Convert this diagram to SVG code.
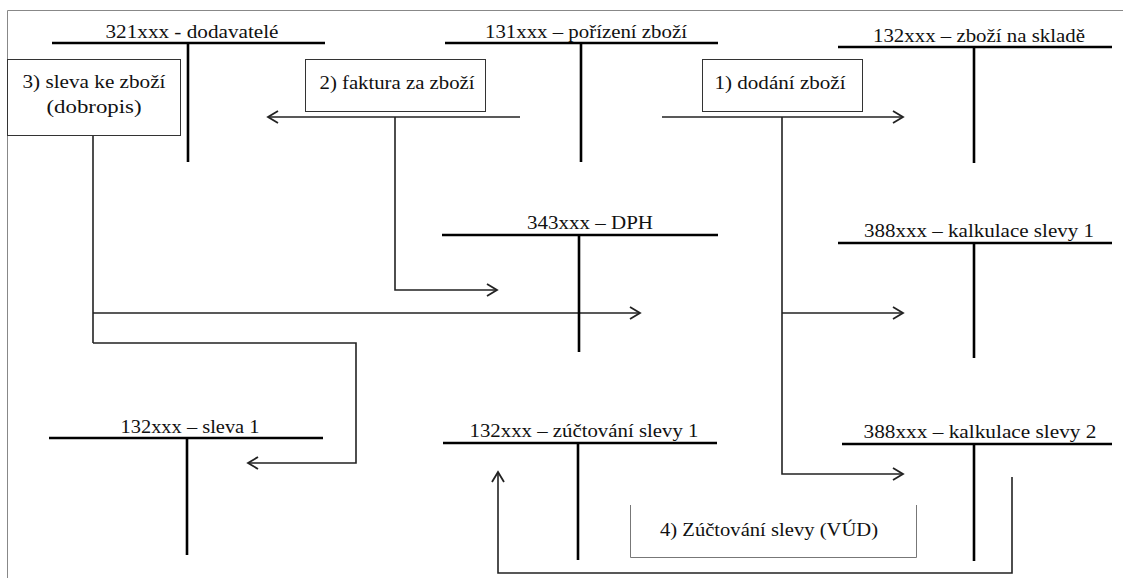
<svg xmlns="http://www.w3.org/2000/svg" width="1123" height="578" viewBox="0 0 1123 578">
<style>
text{font-family:"Liberation Serif","DejaVu Serif","Times New Roman",serif;font-size:19px;fill:#111;text-anchor:middle}
.t{stroke:#000;stroke-width:2.6;fill:none}
.c{stroke:#222;stroke-width:1.6;fill:none}
.b{stroke:#333;stroke-width:1;fill:#fff}
.f{stroke:#888;stroke-width:1;fill:none}
</style>
<defs>
<marker id="ah" markerUnits="userSpaceOnUse" markerWidth="16" markerHeight="16" refX="11" refY="7" orient="auto">
<path d="M1,1 L11,7 L1,13" fill="none" stroke="#222" stroke-width="1.8"/>
</marker>
</defs>
<rect width="1123" height="578" fill="#fff"/>
<path class="f" d="M7.5,590 V10.5 H1130"/>

<g id="connectors">
<path class="c" d="M520,117 H268" marker-end="url(#ah)"/>
<path class="c" d="M395,117 V290 H497" marker-end="url(#ah)"/>
<path class="c" d="M662,117 H903" marker-end="url(#ah)"/>
<path class="c" d="M782,117 V474 H903" marker-end="url(#ah)"/>
<path class="c" d="M782,313 H903" marker-end="url(#ah)"/>
<path class="c" d="M93,135 V343"/>
<path class="c" d="M93,313 H640" marker-end="url(#ah)"/>
<path class="c" d="M93,343 H356 V463 H248" marker-end="url(#ah)"/>
<path class="c" d="M1012,477 V573 H498 V472" marker-end="url(#ah)"/>
</g>

<g id="acc321">
<text x="192" y="38" textLength="173" lengthAdjust="spacingAndGlyphs">321xxx - dodavatelé</text>
<path class="t" d="M52,43 H325 M188,43 V162"/>
</g>
<g id="acc131">
<text x="586" y="38" textLength="202" lengthAdjust="spacingAndGlyphs">131xxx – pořízení zboží</text>
<path class="t" d="M445,43 H718 M581,43 V162"/>
</g>
<g id="acc132sklad">
<text x="979" y="42" textLength="212" lengthAdjust="spacingAndGlyphs">132xxx – zboží na skladě</text>
<path class="t" d="M838,47 H1112 M974,47 V163"/>
</g>
<g id="acc343">
<text x="590" y="229" textLength="126" lengthAdjust="spacingAndGlyphs">343xxx – DPH</text>
<path class="t" d="M442,235 H718 M579,235 V352"/>
</g>
<g id="acc388a">
<text x="979" y="237" textLength="230" lengthAdjust="spacingAndGlyphs">388xxx – kalkulace slevy 1</text>
<path class="t" d="M838,243 H1112 M974,243 V358"/>
</g>
<g id="acc132sleva">
<text x="190" y="433" textLength="139" lengthAdjust="spacingAndGlyphs">132xxx – sleva 1</text>
<path class="t" d="M49,438 H323 M187,438 V555"/>
</g>
<g id="acc132zuct">
<text x="584" y="437" textLength="229" lengthAdjust="spacingAndGlyphs">132xxx – zúčtování slevy 1</text>
<path class="t" d="M443,443 H717 M578,443 V560"/>
</g>
<g id="acc388b">
<text x="980" y="438" textLength="233" lengthAdjust="spacingAndGlyphs">388xxx – kalkulace slevy 2</text>
<path class="t" d="M842,444 H1112 M974,444 V561"/>
</g>

<g id="box3">
<rect class="b" x="7.5" y="59.5" width="173" height="76"/>
<text x="94" y="88" textLength="143" lengthAdjust="spacingAndGlyphs">3) sleva ke zboží</text>
<text x="94" y="113" textLength="95" lengthAdjust="spacingAndGlyphs">(dobropis)</text>
</g>
<g id="box2">
<rect class="b" x="305.5" y="59.5" width="180" height="52"/>
<text x="397" y="89" textLength="155" lengthAdjust="spacingAndGlyphs">2) faktura za zboží</text>
</g>
<g id="box1">
<rect class="b" x="702.5" y="59.5" width="160" height="52"/>
<text x="780" y="89" textLength="131" lengthAdjust="spacingAndGlyphs">1) dodání zboží</text>
</g>
<g id="box4">
<path d="M630.5,505 V557.5 H916.5 V505" fill="none" stroke="#777" stroke-width="1"/>
<text x="769" y="536" textLength="218" lengthAdjust="spacingAndGlyphs">4) Zúčtování slevy (VÚD)</text>
</g>
</svg>
